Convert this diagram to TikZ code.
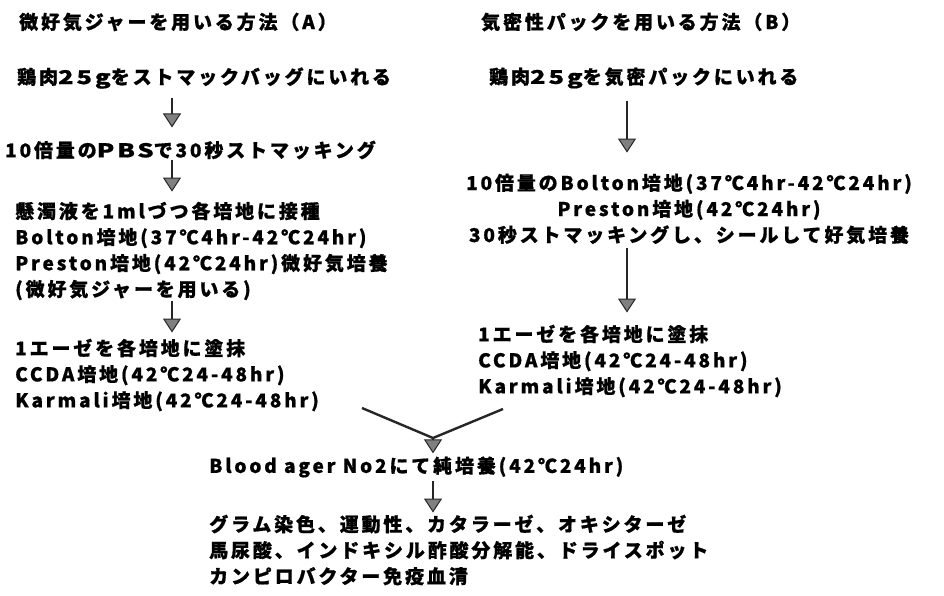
\documentclass[tikz,border=0pt]{standalone}
\usepackage{fontspec}
\setmainfont{Noto Sans CJK JP}[LetterSpace=15, BoldFeatures={FakeBold=0.8}]
\newcommand{\wide}[1]{{\addfontfeature{FakeStretch=1.35}#1}}
\usetikzlibrary{arrows.meta}
\begin{document}
\begin{tikzpicture}[x=1pt,y=-1pt,
  txt/.style={inner sep=0pt, anchor=west, align=left, font=\fontsize{19}{26}\selectfont\bfseries},
  flow/.style={draw=black!85, line width=2.8pt,
     -{Triangle[width=18pt,length=14pt,fill=black!50,line width=1pt]}},
  merge/.style={draw=black!85, line width=2.4pt}]
\path[use as bounding box, fill=white] (0,0) rectangle (944,595);

\node[txt] (tA) at (19,22) {微好気ジャーを用いる方法（A）};
\node[txt] (tB) at (481,22) {気密性パックを用いる方法（B）};

\node[txt] (a1) at (17,78) {鶏肉\wide{25g}をストマックバッグにいれる};
\node[txt] (a2) at (5,150) {10倍量の\wide{PBS}で30秒ストマッキング};
\node[txt] (a3) at (15,251) {懸濁液を1mlづつ各培地に接種\\Bolton培地(37℃4hr-42℃24hr)\\Preston培地(42℃24hr)微好気培養\\(微好気ジャーを用いる)};
\node[txt] (a4) at (15,375) {1エーゼを各培地に塗抹\\CCDA培地(42℃24-48hr)\\Karmali培地(42℃24-48hr)};

\node[txt] (b1) at (489,78) {鶏肉\wide{25g}を気密パックにいれる};
\node[txt, align=center, anchor=center] (b2) at (689,209) {10倍量のBolton培地(37℃4hr-42℃24hr)\\Preston培地(42℃24hr)\\30秒ストマッキングし、シールして好気培養};
\node[txt] (b3) at (478,361) {1エーゼを各培地に塗抹\\CCDA培地(42℃24-48hr)\\Karmali培地(42℃24-48hr)};

\node[txt] (bl) at (209,467) {Blood ager No2にて純培養(42℃24hr)};
\node[txt] (fin) at (209,550) {グラム染色、運動性、カタラーゼ、オキシターゼ\\馬尿酸、インドキシル酢酸分解能、ドライスポット\\カンピロバクター免疫血清};

\coordinate (cA) at (172,0);
\coordinate (cB) at (627,0);
\coordinate (mL) at (362,408);
\coordinate (mR) at (503,409);
\coordinate (mJ) at (433,438);

\draw[flow] ([yshift=-9pt]a1.south -| cA) -- ([yshift=13pt]a2.north -| cA);
\draw[flow] ([yshift=0pt]a2.south -| cA) -- ([yshift=10pt]a3.north -| cA);
\draw[flow] ([yshift=-1pt]a3.south -| cA) -- ([yshift=6pt]a4.north -| cA);
\draw[flow] ([yshift=-12pt]b1.south -| cB) -- ([yshift=21pt]b2.north -| cB);
\draw[flow] ([yshift=-4pt]b2.south -| cB) -- ([yshift=12pt]b3.north -| cB);
\draw[merge] (mL) -- (mJ) -- (mR);
\draw[flow] (mJ) -- ([yshift=3pt]bl.north -| mJ);
\draw[flow] ([yshift=-3pt]bl.south -| mJ) -- ([yshift=2pt]fin.north -| mJ);
\end{tikzpicture}
\end{document}
